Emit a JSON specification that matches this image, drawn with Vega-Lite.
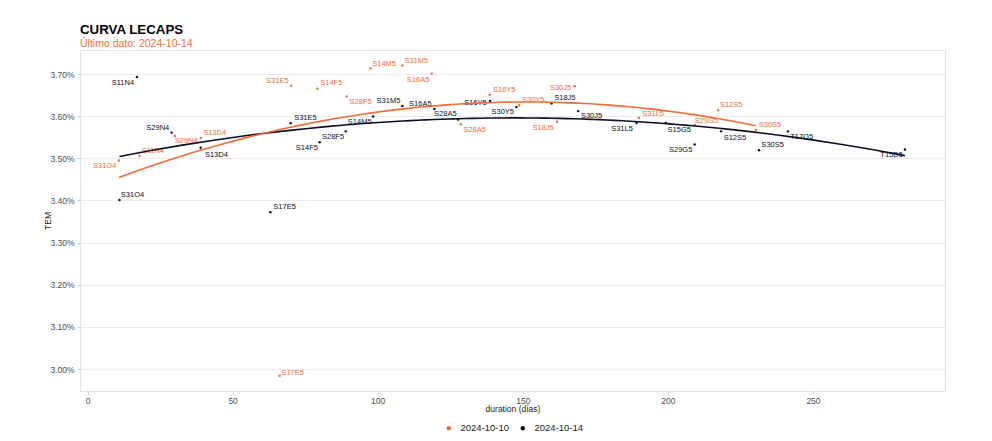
{
  "$schema": "https://vega.github.io/schema/vega-lite/v6.json",
  "autosize": {"type": "none"},
  "padding": {"left": 80, "top": 50, "right": 47, "bottom": 50},
  "width": 865,
  "height": 341,
  "background": "white",
  "title": {
    "text": "CURVA LECAPS",
    "subtitle": "Último dato: 2024-10-14",
    "anchor": "start",
    "frame": "group",
    "font": "Liberation Sans",
    "fontSize": 13.3,
    "fontWeight": "bold",
    "color": "#000000",
    "subtitleFont": "Liberation Sans",
    "subtitleFontSize": 10.5,
    "subtitleColor": "#F26B38",
    "subtitlePadding": 2,
    "offset": 1
  },
  "config": {
    "font": "Liberation Sans",
    "view": {"stroke": "#e3e3e3", "strokeWidth": 1},
    "axis": {
      "gridColor": "#ebebeb",
      "domain": false,
      "tickColor": "#cccccc",
      "tickSize": 3,
      "labelColor": "#4d4d4d",
      "labelFontSize": 8.5,
      "titleFontSize": 8.5,
      "titleFontWeight": "normal",
      "titleColor": "#222222",
      "labelFont": "Liberation Sans",
      "titleFont": "Liberation Sans"
    }
  },
  "data": {
    "values": [
      {"ticker": "S31O4", "fecha": "2024-10-14", "dur": 11, "tem": 3.401, "lx": 15.5, "ly": 3.414},
      {"ticker": "S11N4", "fecha": "2024-10-14", "dur": 17, "tem": 3.693, "lx": 12.2, "ly": 3.679},
      {"ticker": "S29N4", "fecha": "2024-10-14", "dur": 29, "tem": 3.561, "lx": 24.2, "ly": 3.573},
      {"ticker": "S13D4", "fecha": "2024-10-14", "dur": 39, "tem": 3.525, "lx": 44.4, "ly": 3.509},
      {"ticker": "S17E5", "fecha": "2024-10-14", "dur": 63, "tem": 3.372, "lx": 67.9, "ly": 3.384},
      {"ticker": "S31E5", "fecha": "2024-10-14", "dur": 70, "tem": 3.583, "lx": 75.1, "ly": 3.595},
      {"ticker": "S14F5", "fecha": "2024-10-14", "dur": 80, "tem": 3.538, "lx": 75.6, "ly": 3.524},
      {"ticker": "S28F5", "fecha": "2024-10-14", "dur": 89, "tem": 3.564, "lx": 84.6, "ly": 3.551},
      {"ticker": "S14M5", "fecha": "2024-10-14", "dur": 98.4, "tem": 3.599, "lx": 93.8, "ly": 3.586},
      {"ticker": "S31M5", "fecha": "2024-10-14", "dur": 108.5, "tem": 3.624, "lx": 103.7, "ly": 3.635},
      {"ticker": "S16A5", "fecha": "2024-10-14", "dur": 119.5, "tem": 3.617, "lx": 114.7, "ly": 3.629},
      {"ticker": "S28A5", "fecha": "2024-10-14", "dur": 127.7, "tem": 3.592, "lx": 123.3, "ly": 3.604},
      {"ticker": "S16Y5", "fecha": "2024-10-14", "dur": 138.7, "tem": 3.636, "lx": 133.7, "ly": 3.632},
      {"ticker": "S30Y5", "fecha": "2024-10-14", "dur": 147.8, "tem": 3.622, "lx": 143.1, "ly": 3.610},
      {"ticker": "S18J5", "fecha": "2024-10-14", "dur": 159.9, "tem": 3.630, "lx": 164.5, "ly": 3.644},
      {"ticker": "S30J5", "fecha": "2024-10-14", "dur": 169.1, "tem": 3.612, "lx": 173.7, "ly": 3.600},
      {"ticker": "S31L5", "fecha": "2024-10-14", "dur": 189.2, "tem": 3.584, "lx": 184.2, "ly": 3.569},
      {"ticker": "S15G5", "fecha": "2024-10-14", "dur": 199.3, "tem": 3.584, "lx": 203.9, "ly": 3.567},
      {"ticker": "S29G5", "fecha": "2024-10-14", "dur": 209.2, "tem": 3.533, "lx": 204.4, "ly": 3.519},
      {"ticker": "S12S5", "fecha": "2024-10-14", "dur": 218.3, "tem": 3.564, "lx": 223.1, "ly": 3.548},
      {"ticker": "S30S5", "fecha": "2024-10-14", "dur": 231.4, "tem": 3.519, "lx": 236.1, "ly": 3.531},
      {"ticker": "T17O5", "fecha": "2024-10-14", "dur": 241.4, "tem": 3.564, "lx": 246.1, "ly": 3.551},
      {"ticker": "T15D5", "fecha": "2024-10-14", "dur": 281.7, "tem": 3.521, "lx": 277.1, "ly": 3.507},
      {"ticker": "S31O4", "fecha": "2024-10-10", "dur": 10.8, "tem": 3.495, "lx": 5.9, "ly": 3.481},
      {"ticker": "S11N4", "fecha": "2024-10-10", "dur": 17.9, "tem": 3.506, "lx": 22.5, "ly": 3.517},
      {"ticker": "S29N4", "fecha": "2024-10-10", "dur": 30.1, "tem": 3.553, "lx": 34.0, "ly": 3.540},
      {"ticker": "S13D4", "fecha": "2024-10-10", "dur": 39, "tem": 3.548, "lx": 43.8, "ly": 3.560},
      {"ticker": "S17E5", "fecha": "2024-10-10", "dur": 66.2, "tem": 2.984, "lx": 70.7, "ly": 2.990},
      {"ticker": "S31E5", "fecha": "2024-10-10", "dur": 70.2, "tem": 3.672, "lx": 65.4, "ly": 3.683},
      {"ticker": "S14F5", "fecha": "2024-10-10", "dur": 79.2, "tem": 3.665, "lx": 84.0, "ly": 3.678},
      {"ticker": "S28F5", "fecha": "2024-10-10", "dur": 89.3, "tem": 3.647, "lx": 94.1, "ly": 3.633},
      {"ticker": "S14M5", "fecha": "2024-10-10", "dur": 97.5, "tem": 3.713, "lx": 102.2, "ly": 3.724},
      {"ticker": "S31M5", "fecha": "2024-10-10", "dur": 108.5, "tem": 3.720, "lx": 113.3, "ly": 3.731},
      {"ticker": "S16A5", "fecha": "2024-10-10", "dur": 118.6, "tem": 3.701, "lx": 113.9, "ly": 3.686},
      {"ticker": "S28A5", "fecha": "2024-10-10", "dur": 128.6, "tem": 3.581, "lx": 133.4, "ly": 3.567},
      {"ticker": "S16Y5", "fecha": "2024-10-10", "dur": 138.6, "tem": 3.651, "lx": 143.6, "ly": 3.662},
      {"ticker": "S30Y5", "fecha": "2024-10-10", "dur": 148.7, "tem": 3.626, "lx": 153.6, "ly": 3.638},
      {"ticker": "S18J5", "fecha": "2024-10-10", "dur": 161.8, "tem": 3.587, "lx": 157.0, "ly": 3.573},
      {"ticker": "S30J5", "fecha": "2024-10-10", "dur": 167.9, "tem": 3.671, "lx": 163.0, "ly": 3.667},
      {"ticker": "S31L5", "fecha": "2024-10-10", "dur": 190, "tem": 3.596, "lx": 194.9, "ly": 3.606},
      {"ticker": "S29G5", "fecha": "2024-10-10", "dur": 209.3, "tem": 3.579, "lx": 213.3, "ly": 3.589},
      {"ticker": "S12S5", "fecha": "2024-10-10", "dur": 217.3, "tem": 3.614, "lx": 221.8, "ly": 3.627},
      {"ticker": "S30S5", "fecha": "2024-10-10", "dur": 230.3, "tem": 3.567, "lx": 235.2, "ly": 3.579}
    ]
  },
  "layer": [
    {
      "mark": {"type": "point", "filled": true, "size": 6, "opacity": 1},
      "encoding": {
        "x": {
          "field": "dur", "type": "quantitative",
          "scale": {"domain": [-2.6, 295.5], "nice": false, "zero": false},
          "axis": {"title": "duration (días)", "values": [0, 50, 100, 150, 200, 250], "grid": false, "titlePadding": 0, "labelPadding": 2}
        },
        "y": {
          "field": "tem", "type": "quantitative",
          "scale": {"domain": [2.948, 3.757], "nice": false, "zero": false},
          "axis": {"title": "TEM", "values": [3.0, 3.1, 3.2, 3.3, 3.4, 3.5, 3.6, 3.7], "labelExpr": "format(datum.value, '.2f') + '%'", "titlePadding": -3, "labelPadding": 3}
        },
        "color": {
          "field": "fecha", "type": "nominal",
          "scale": {"domain": ["2024-10-10", "2024-10-14"], "range": ["#F26B38", "#0d0d26"]},
          "legend": {
            "title": null, "orient": "none", "direction": "horizontal",
            "legendX": 364, "legendY": 373,
            "symbolType": "circle", "symbolSize": 9,
            "labelFontSize": 9.5, "labelColor": "#222222",
            "columnPadding": 8, "labelOffset": 7
          }
        }
      }
    },
    {
      "mark": {"type": "text", "fontSize": 7.5, "font": "Liberation Sans"},
      "encoding": {
        "x": {"field": "lx", "type": "quantitative"},
        "y": {"field": "ly", "type": "quantitative"},
        "text": {"field": "ticker"},
        "color": {"field": "fecha", "type": "nominal", "legend": null}
      }
    },
    {
      "transform": [
        {"regression": "tem", "on": "dur", "groupby": ["fecha"], "method": "poly", "order": 2}
      ],
      "mark": {"type": "line", "strokeWidth": 1.6},
      "encoding": {
        "x": {"field": "dur", "type": "quantitative"},
        "y": {"field": "tem", "type": "quantitative"},
        "color": {"field": "fecha", "type": "nominal", "legend": null}
      }
    }
  ]
}
